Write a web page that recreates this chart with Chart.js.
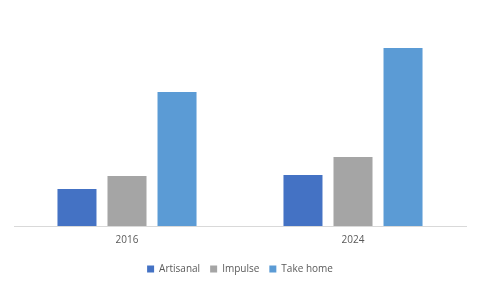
<!DOCTYPE html>
<html>
<head>
<meta charset="utf-8">
<script src="https://cdn.jsdelivr.net/npm/chart.js@4"></script>
<style>
  html, body { margin: 0; padding: 0; background: #fff; }
  #wrap { width: 480px; height: 288px; }
</style>
</head>
<body>
<div id="wrap"><canvas id="grafico"></canvas></div>
<script>
// dados do gráfico
var categorias = ['2016', '2024'];
var artisanal = [37, 51];
var impulse = [50, 69];
var takeHome = [134, 178];

var ctx = document.getElementById('grafico').getContext('2d');

var dadosGrafico = {
    labels: categorias,
    datasets: [
        { label: 'Artisanal', data: artisanal, backgroundColor: '#4472C4' },
        { label: 'Impulse', data: impulse, backgroundColor: '#A5A5A5' },
        { label: 'Take home', data: takeHome, backgroundColor: '#5B9BD5' }
    ]
};

var config = {
    type: 'bar',
    data: dadosGrafico,
    options: {
        responsive: true,
        maintainAspectRatio: false,
        animation: false,
        datasets: {
            bar: { barPercentage: 0.78, categoryPercentage: 0.664 }
        },
        layout: { padding: { top: 10, left: 14, right: 14, bottom: 4 } },
        scales: {
            x: {
                grid: { display: false, drawTicks: false },
                border: { color: '#d9d9d9', width: 1 },
                ticks: { color: '#595959', font: { family: 'Open Sans', size: 10 }, padding: 8 }
            },
            y: {
                display: false,
                min: 0,
                max: 216
            }
        },
        plugins: {
            legend: {
                position: 'bottom',
                labels: {
                    color: '#595959',
                    font: { family: 'Open Sans', size: 10 },
                    boxWidth: 7,
                    boxHeight: 7,
                    padding: 10
                }
            },
            tooltip: { enabled: false }
        }
    }
};

var graficoRamais = new Chart(ctx, config);
</script>
</body>
</html>
